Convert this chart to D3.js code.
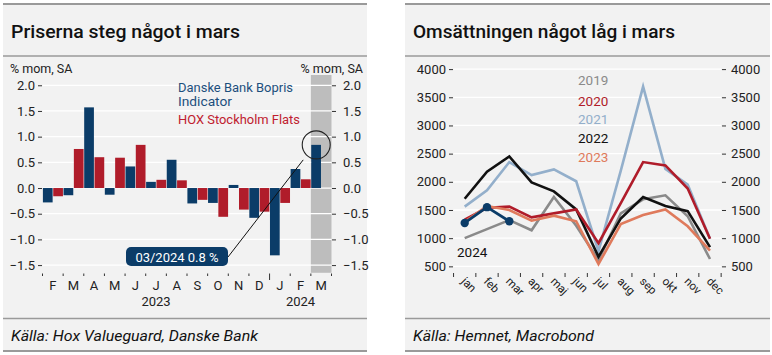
<!DOCTYPE html>
<html><head><meta charset="utf-8">
<script src="https://cdn.jsdelivr.net/npm/d3@7"></script>
<style>
html,body{margin:0;padding:0;background:#fff;}
svg{display:block;font-family:Roboto, "Noto Sans", sans-serif;}
</style></head>
<body><svg id="c" width="772" height="355"></svg>
<script>
// ---------- Left chart data ----------
const barMonths = ["F","M","A","M","J","J","A","S","O","N","D","J","F","M"];
const barYear = ["2023","2023","2023","2023","2023","2023","2023","2023","2023","2023","2023","2024","2024","2024"];
const danske = [-0.28,-0.14,1.57,-0.13,0.42,0.12,0.55,-0.30,-0.29,0.06,-0.58,-1.31,0.37,0.84];
const hox = [-0.16,0.76,0.60,0.59,0.84,0.16,0.15,-0.23,-0.56,-0.42,-0.46,-0.29,0.17,null];
const leftTicks = [-1.5,-1.0,-0.5,0.0,0.5,1.0,1.5,2.0];
const leftTitle = "Priserna steg något i mars";
const leftSource = "Källa: Hox Valueguard, Danske Bank";
const leftUnit = "% mom, SA";
const seriesNames = ["Danske Bank Bopris", "Indicator", "HOX Stockholm Flats"];
const annotation = "03/2024 0.8 %";

// ---------- Right chart data ----------
const lineMonths = ["jan","feb","mar","apr","maj","jun","jul","aug","sep","okt","nov","dec"];
const s2019 = [1000,1160,1320,1140,1730,1220,610,1440,1690,1760,1390,630];
const s2020 = [1330,1540,1560,1370,1440,1510,910,1620,2350,2290,1880,990];
const s2021 = [1560,1850,2350,2120,2220,2010,770,2200,3690,2230,1950,990];
const s2022 = [1700,2180,2450,1990,1830,1510,670,1350,1730,1570,1480,840];
const s2023 = [1290,1570,1500,1310,1400,1300,540,1250,1410,1510,1210,780];
const s2024 = [1270,1550,1300];
const lineYears = ["2019","2020","2021","2022","2023"];
const rightTicks = [500,1000,1500,2000,2500,3000,3500,4000];
const rightTitle = "Omsättningen något låg i mars";
const rightSource = "Källa: Hemnet, Macrobond";

const C = {
  panel:"#f2f2f2", rule:"#9a9a9a", navy:"#0b3c68", red:"#b01c2a",
  navyText:"#1d4f7d", redText:"#c0202e", grey:"#8a8a8a", lblue:"#93afcb",
  black:"#111111", salmon:"#df7a5c", band:"#bdbdbd", text:"#222"
};

const svg = d3.select("#c");

function panel(x0, x1, title, source, titleW, sourceW){
  const g = svg.append("g");
  g.append("rect").attr("x",x0).attr("y",4).attr("width",x1-x0).attr("height",347).attr("fill",C.panel);
  [4,56,318.5,351].forEach((y,i)=>{
    g.append("line").attr("x1",x0).attr("x2",x1).attr("y1",y).attr("y2",y)
      .attr("stroke",C.rule).attr("stroke-width", i===0||i===3?2:1.6);
  });
  g.append("text").attr("x",x0+8).attr("y",38).text(title)
    .attr("font-size",17.5).attr("font-weight",500).attr("fill","#111")
    .attr("textLength",titleW).attr("lengthAdjust","spacingAndGlyphs");
  g.append("text").attr("x",x0+8).attr("y",341).text(source)
    .attr("font-size",14).attr("font-style","italic").attr("fill","#111")
    .attr("textLength",sourceW).attr("lengthAdjust","spacingAndGlyphs");
}

// ================= LEFT =================
panel(3, 367, leftTitle, leftSource, 229, 247);

const xb = d3.scaleBand().domain(d3.range(barMonths.length)).range([42.5, 331.5]).padding(0);
const yb = d3.scaleLinear().domain([-1.65, 2.2]).range([272.8, 75]);
const gL = svg.append("g");

gL.append("rect").attr("x", xb(13)).attr("width", xb.bandwidth())
  .attr("y", yb(2.2)).attr("height", yb(-1.65)-yb(2.2)).attr("fill", C.band);

gL.selectAll(".gl").data(leftTicks).join("line")
  .attr("x1",42.5).attr("x2",331.5).attr("y1",d=>yb(d)).attr("y2",d=>yb(d))
  .attr("stroke","#fff").attr("stroke-width",1.3);

const fmt1 = d3.format(".1f");
const axL = gL.append("g").attr("transform","translate(42,0)")
  .call(d3.axisLeft(yb).tickValues(leftTicks).tickFormat(fmt1).tickSize(4).tickPadding(3));
const axR = gL.append("g").attr("transform","translate(332,0)")
  .call(d3.axisRight(yb).tickValues(leftTicks).tickFormat(fmt1).tickSize(4).tickPadding(7));
[axL,axR].forEach(a=>{
  a.select(".domain").remove();
  a.selectAll("text").attr("font-size",13).attr("fill",C.text).attr("font-family","Roboto, sans-serif");
  a.selectAll("line").attr("stroke","#333");
});

const bw = xb.bandwidth()/2 - 0.6;
gL.selectAll(".bb").data(danske).join("rect")
  .attr("x",(d,i)=>xb(i)+0.4).attr("width",bw)
  .attr("y",d=>yb(Math.max(0,d))).attr("height",d=>Math.abs(yb(d)-yb(0)))
  .attr("fill",C.navy);
gL.selectAll(".rb").data(hox.map((v,i)=>({v,i})).filter(d=>d.v!==null)).join("rect")
  .attr("x",d=>xb(d.i)+xb.bandwidth()/2+0.4).attr("width",bw)
  .attr("y",d=>yb(Math.max(0,d.v))).attr("height",d=>Math.abs(yb(d.v)-yb(0)))
  .attr("fill",C.red);

const bounds = d3.range(barMonths.length+1).map(i=> i<barMonths.length ? xb(i) : xb(i-1)+xb.bandwidth());
gL.selectAll(".xt").data(bounds).join("line")
  .attr("x1",d=>d).attr("x2",d=>d)
  .attr("y1",273.5).attr("y2",(d,i)=> i===11 ? 280 : 276)
  .attr("stroke","#333").attr("stroke-width",1);
gL.selectAll(".ml").data(barMonths).join("text")
  .attr("x",(d,i)=>xb(i)+xb.bandwidth()/2).attr("y",290)
  .attr("text-anchor","middle").attr("font-size",13).attr("fill",C.text).text(d=>d);
const yrs = Array.from(new Set(barYear));
gL.selectAll(".yl").data(yrs).join("text")
  .attr("x",y=>{const idx=barYear.map((v,i)=>v===y?i:-1).filter(i=>i>=0);
      return (xb(idx[0]) + xb(idx[idx.length-1]) + xb.bandwidth())/2;})
  .attr("y",306).attr("text-anchor","middle").attr("font-size",13).attr("fill",C.text).text(d=>d);

gL.append("text").attr("x",10).attr("y",73).attr("font-size",12.5).attr("fill",C.text).text(leftUnit);
gL.append("text").attr("x",363).attr("y",73).attr("text-anchor","end").attr("font-size",12.5).attr("fill",C.text).text(leftUnit);

// legend
gL.append("text").attr("x",178).attr("y",92).attr("font-size",12.5).attr("fill",C.navyText)
  .attr("textLength",115).attr("lengthAdjust","spacingAndGlyphs").text(seriesNames[0]);
gL.append("text").attr("x",178).attr("y",106).attr("font-size",12.5).attr("fill",C.navyText)
  .attr("textLength",54).attr("lengthAdjust","spacingAndGlyphs").text(seriesNames[1]);
gL.append("text").attr("x",178).attr("y",124).attr("font-size",12.5).attr("fill",C.redText)
  .attr("textLength",122).attr("lengthAdjust","spacingAndGlyphs").text(seriesNames[2]);

// annotation
const lastX = xb(13) + bw/2;
const lastY = yb(danske[13]);
gL.append("circle").attr("cx",lastX+0.5).attr("cy",lastY).attr("r",14)
  .attr("fill","none").attr("stroke","#222").attr("stroke-width",1.1);
gL.append("line").attr("x1",228).attr("y1",257).attr("x2",lastX-12.5).attr("y2",lastY+15)
  .attr("stroke","#111").attr("stroke-width",1);
gL.append("rect").attr("x",126).attr("y",247).attr("width",102).attr("height",19).attr("rx",5)
  .attr("fill",C.navy);
gL.append("text").attr("x",177).attr("y",261.5).attr("text-anchor","middle").attr("font-size",13)
  .attr("fill","#fff").text(annotation);

// ================= RIGHT =================
panel(405, 770, rightTitle, rightSource, 262, 181);
const gR = svg.append("g");
const xp = d3.scalePoint().domain(lineMonths).range([464.7, 710]);
const step = xp.step();
const yl = d3.scaleLinear().domain([350, 4000]).range([274.8, 69.1]);

gR.selectAll(".gl").data(rightTicks).join("line")
  .attr("x1",453.5).attr("x2",721).attr("y1",d=>yl(d)).attr("y2",d=>yl(d))
  .attr("stroke","#fff").attr("stroke-width",1.3);

const fmt0 = d3.format("d");
const aL = gR.append("g").attr("transform","translate(453,0)")
  .call(d3.axisLeft(yl).tickValues(rightTicks).tickFormat(fmt0).tickSize(4).tickPadding(3));
const aR = gR.append("g").attr("transform","translate(722,0)")
  .call(d3.axisRight(yl).tickValues(rightTicks).tickFormat(fmt0).tickSize(4).tickPadding(5));
[aL,aR].forEach(a=>{
  a.select(".domain").remove();
  a.selectAll("text").attr("font-size",13).attr("fill",C.text).attr("font-family","Roboto, sans-serif");
  a.selectAll("line").attr("stroke","#333");
});

const rb = d3.range(lineMonths.length+1).map(i=> xp(lineMonths[0]) - step/2 + i*step);
gR.selectAll(".xt").data(rb).join("line")
  .attr("x1",d=>d).attr("x2",d=>d).attr("y1",273).attr("y2",277)
  .attr("stroke","#333").attr("stroke-width",1);
gR.selectAll(".ml").data(lineMonths).join("text")
  .attr("transform",d=>`translate(${xp(d)-4},${282}) rotate(45)`)
  .attr("font-size",11.5).attr("fill",C.text).text(d=>d);

const line = d3.line().x((d,i)=>xp(lineMonths[i])).y(d=>yl(d));
const series = [
  {v:s2019,c:C.grey},{v:s2021,c:C.lblue},{v:s2022,c:C.black},
  {v:s2020,c:C.red},{v:s2023,c:C.salmon}
];
series.forEach(s=>{
  gR.append("path").datum(s.v).attr("d",line).attr("fill","none")
    .attr("stroke",s.c).attr("stroke-width",2.6).attr("stroke-linejoin","miter");
});
gR.append("path").datum(s2024).attr("d",line).attr("fill","none")
  .attr("stroke",C.navy).attr("stroke-width",2.8);
gR.selectAll(".dot").data(s2024).join("circle")
  .attr("cx",(d,i)=>xp(lineMonths[i])).attr("cy",d=>yl(d)).attr("r",4.2).attr("fill",C.navy);

const legCols = [C.grey,C.red,C.lblue,C.black,C.salmon];
const legY = [85,106,124,143,162];
gR.selectAll(".lg").data(lineYears).join("text")
  .attr("x",578).attr("y",(d,i)=>legY[i]).attr("font-size",13.5)
  .attr("fill",(d,i)=>legCols[i]).text(d=>d);
gR.append("text").attr("x",457).attr("y",257).attr("font-size",13.5).attr("fill","#111").text("2024");
</script></body></html>
